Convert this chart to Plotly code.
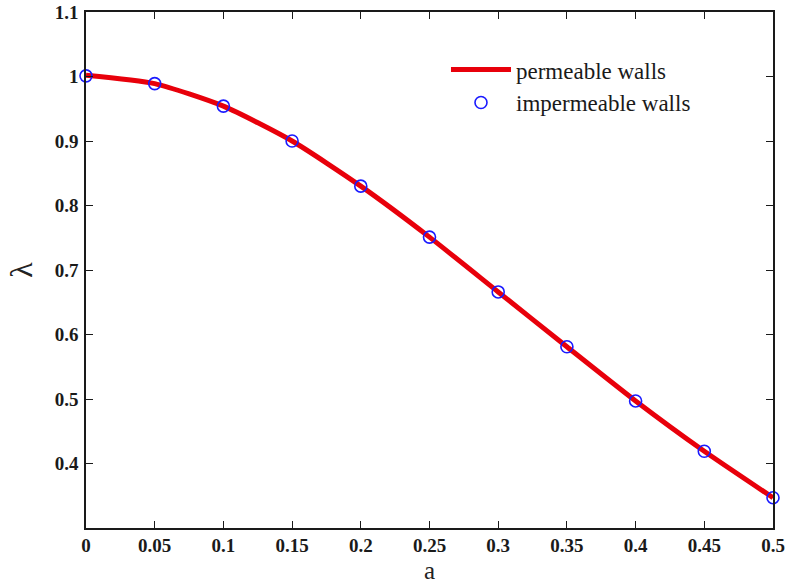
import plotly.graph_objects as go

# Eigenvalue lambda versus parameter a
a_vals = [0, 0.05, 0.1, 0.15, 0.2, 0.25, 0.3, 0.35, 0.4, 0.45, 0.5]
lam_permeable = [1.002, 0.989, 0.954, 0.900, 0.830, 0.751, 0.666, 0.581, 0.497, 0.419, 0.347]
lam_impermeable = [1.001, 0.989, 0.954, 0.900, 0.830, 0.751, 0.666, 0.581, 0.497, 0.419, 0.347]

x_ticks = [0, 0.05, 0.1, 0.15, 0.2, 0.25, 0.3, 0.35, 0.4, 0.45, 0.5]
x_labels = ["0", "0.05", "0.1", "0.15", "0.2", "0.25", "0.3", "0.35", "0.4", "0.45", "0.5"]
y_ticks = [0.4, 0.5, 0.6, 0.7, 0.8, 0.9, 1.0, 1.1]
y_labels = ["0.4", "0.5", "0.6", "0.7", "0.8", "0.9", "1", "1.1"]

serif = "Liberation Serif, Times New Roman, serif"

fig = go.Figure()
fig.add_trace(go.Scatter(
    x=a_vals, y=lam_permeable, mode="lines", name="permeable walls",
    line=dict(color="#e8000b", width=5, shape="spline", smoothing=0.6),
    cliponaxis=False,
))
fig.add_trace(go.Scatter(
    x=a_vals, y=lam_impermeable, mode="markers", name="impermeable walls",
    marker=dict(symbol="circle-open", size=12, color="#1a1aff", line=dict(width=1.6, color="#1a1aff")),
    cliponaxis=False,
))

axis_common = dict(
    showline=True, linecolor="#1a1a1a", linewidth=1.6, mirror="ticks",
    ticks="inside", ticklen=7, tickwidth=1.4, tickcolor="#1a1a1a",
    showgrid=False, zeroline=False, automargin=False,
    tickfont=dict(family=serif, size=19, color="#1a1a1a", weight="bold"),
)

fig.update_xaxes(range=[0, 0.5], tickvals=x_ticks, ticktext=x_labels, ticklabelstandoff=-1,
                 **axis_common)
fig.update_yaxes(range=[0.3, 1.1], tickvals=y_ticks, ticktext=y_labels, ticklabelstandoff=2,
                 title=dict(text="λ", font=dict(family=serif, size=32, color="#222"), standoff=12),
                 **axis_common)

# x-axis title placed just below the tick labels
fig.add_annotation(
    text="a", xref="x domain", yref="paper", x=0.5, y=-0.082,
    xanchor="center", yanchor="middle", showarrow=False,
    font=dict(family=serif, size=25, color="#222"),
)

fig.update_layout(
    width=786, height=585,
    margin=dict(l=86, r=13, t=12, b=57),
    plot_bgcolor="white", paper_bgcolor="white",
    legend=dict(x=0.524, y=0.93, xanchor="left", yanchor="top",
                font=dict(family=serif, size=23, color="#1a1a1a"),
                bgcolor="rgba(0,0,0,0)", tracegroupgap=0, itemwidth=60),
)

fig.write_html("out.html")
